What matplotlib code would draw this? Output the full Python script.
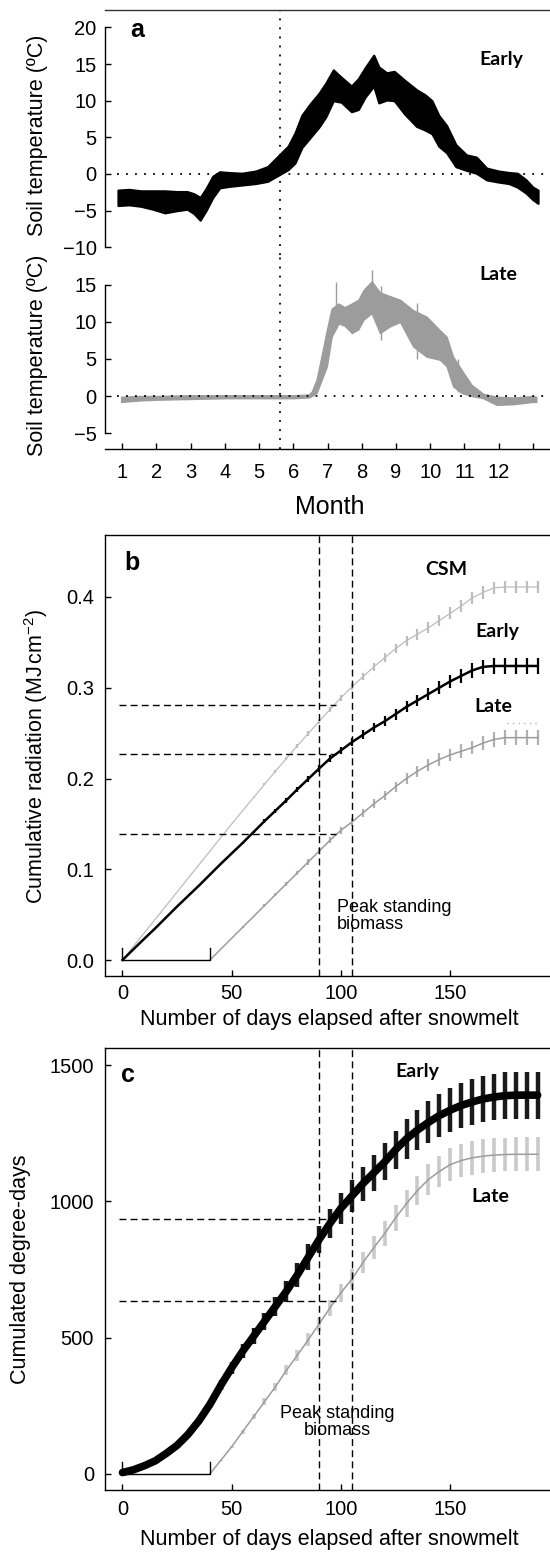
import numpy as np
import matplotlib
matplotlib.use("Agg")
import matplotlib.pyplot as plt

plt.rcParams["font.family"] = ["Liberation Sans", "DejaVu Sans"]
plt.rcParams["mathtext.fontset"] = "custom"
plt.rcParams["mathtext.rm"] = "Liberation Sans"
plt.rcParams["mathtext.it"] = "Liberation Sans:italic"

# ---- panel a: soil temperature envelopes (month, min, max) ----
EARLY_MONTH = [0.88, 1.20, 1.55, 1.90, 2.25, 2.60, 2.90, 3.10, 3.28, 3.45, 3.65, 3.85,
               4.10, 4.50, 4.90, 5.25, 5.55, 5.85, 6.05, 6.25, 6.50, 6.75, 6.95, 7.17,
               7.40, 7.70, 7.90, 8.10, 8.35, 8.50, 8.73, 8.95, 9.25, 9.60, 9.85, 10.05,
               10.25, 10.48, 10.75, 11.06, 11.35, 11.65, 12.00, 12.30, 12.55, 12.80,
               13.00, 13.15]
EARLY_LO = [-4.3, -4.2, -4.4, -4.8, -5.3, -5.0, -4.8, -5.4, -6.3, -5.0, -3.2, -1.9,
            -1.7, -1.5, -1.3, -1.0, -0.2, 0.6, 1.5, 3.6, 5.0, 6.4, 7.8, 10.0,
            9.8, 8.5, 8.8, 10.5, 12.0, 9.7, 10.1, 10.0, 8.2, 6.5, 6.0, 5.5,
            3.8, 2.9, 1.0, 0.5, 0.1, -0.8, -1.1, -1.3, -1.8, -2.6, -3.5, -4.0]
EARLY_HI = [-2.2, -2.1, -2.3, -2.3, -2.3, -2.4, -2.4, -2.7, -3.2, -2.0, -0.3, 0.3,
            0.2, 0.1, 0.4, 1.0, 2.4, 3.8, 5.6, 8.0, 9.6, 11.0, 12.4, 14.2,
            13.2, 12.0, 13.0, 14.5, 16.2, 14.6, 13.8, 14.0, 12.8, 11.5, 10.8, 10.0,
            8.0, 6.6, 4.0, 2.6, 2.3, 0.8, 0.4, 0.2, 0.1, -0.8, -1.8, -2.2]

LATE_MONTH = [0.97, 1.50, 2.00, 3.00, 4.00, 5.00, 6.00, 6.45, 6.54, 6.68, 6.83, 6.98,
              7.12, 7.32, 7.50, 7.71, 7.90, 8.05, 8.29, 8.53, 8.82, 9.12, 9.50, 9.90,
              10.28, 10.48, 10.67, 10.92, 11.21, 11.55, 11.94, 12.43, 13.00, 13.10]
LATE_LO = [-0.8, -0.6, -0.5, -0.4, -0.3, -0.3, -0.3, -0.2, 0.0, 0.4, 2.2, 4.0,
           8.0, 9.8, 9.5, 8.5, 9.0, 10.3, 11.2, 8.5, 9.4, 10.0, 6.7, 5.3,
           4.9, 4.0, 1.3, 0.4, 0.0, -0.3, -1.2, -1.1, -0.8, -0.8]
LATE_HI = [-0.1, 0.0, 0.0, 0.1, 0.1, 0.1, 0.1, 0.2, 0.6, 2.2, 5.5, 8.9,
           11.8, 12.5, 12.0, 12.5, 13.0, 14.3, 15.5, 14.0, 13.5, 13.0, 11.6, 10.7,
           8.9, 8.0, 5.3, 3.5, 1.5, 0.3, -0.1, -0.2, 0.0, -0.1]
# isolated hourly spikes in the late series
LATE_SPIKE_MONTH = [7.25, 8.29, 8.55, 9.62, 10.80]
LATE_SPIKE_LO = [9.0, 11.0, 7.5, 5.0, 0.5]
LATE_SPIKE_HI = [15.4, 17.0, 14.8, 12.6, 5.0]

SNOWMELT_MONTH = 5.60
MONTH_TICKS = list(range(1, 14))
MONTH_LABELS = [str(m) for m in range(1, 13)] + [""]

# ---- panels b and c: cumulative series every 5 days after snowmelt ----
DAYS = list(range(0, 191, 5))
DAYS_LATE = list(range(40, 191, 5))

CSM_RAD = [0, .015, .030, .045, .060, .075, .090, .105, .120, .135, .150, .1645, .179,
           .1935, .208, .222, .236, .2495, .263, .276, .289, .301, .312, .323, .333,
           .343, .352, .359, .366, .374, .382, .390, .399, .405, .410, .411, .411,
           .411, .411]
CSM_RAD_SD = [0, 0, 0, 0, 0, 0, 0, 0, 0, 0, 0, 0, .001, .001, .0015, .002, .002, .0025,
              .003, .003, .0035, .004, .004, .0045, .005, .005, .0055, .006, .006,
              .0065, .0065, .007, .007, .007, .007, .007, .007, .007, .007]
EARLY_RAD = [0, .0118, .0235, .035, .047, .059, .0705, .082, .094, .106, .1175, .129,
             .141, .153, .1645, .176, .188, .1995, .211, .222, .231, .240, .248, .256,
             .263, .271, .279, .286, .293, .300, .307, .313, .319, .323, .324, .324,
             .324, .324, .324]
EARLY_RAD_SD = [0, 0, 0, 0, 0, 0, 0, 0, 0, 0, .001, .001, .0015, .002, .002, .0025, .003,
                .003, .0035, .004, .004, .0045, .005, .005, .0055, .006, .006, .0065,
                .007, .007, .0075, .0075, .008, .008, .0085, .0085, .0085, .0085, .0085]
LATE_RAD = [0, .012, .024, .036, .048, .060, .072, .084, .096, .108, .120, .132, .143,
            .152, .162, .172, .181, .191, .200, .208, .215, .221, .226, .230, .234,
            .239, .243, .245, .245, .245, .245]
LATE_RAD_SD = [0, 0, 0, .001, .001, .0015, .002, .002, .0025, .003, .003, .0035, .004,
               .004, .0045, .005, .005, .0055, .006, .006, .0065, .007, .007, .0075,
               .0075, .008, .008, .008, .008, .008, .008]
RAD_AT_PEAK = [0.281, 0.227, 0.1385]

EARLY_GDD = [5, 15, 30, 48, 75, 105, 145, 195, 255, 325, 390, 450, 505, 560, 615, 670,
             730, 795, 860, 920, 975, 1020, 1065, 1105, 1145, 1190, 1230, 1262, 1290,
             1315, 1335, 1352, 1365, 1376, 1383, 1388, 1390, 1390, 1390]
EARLY_GDD_SD = [0, 1, 2, 3, 5, 6, 8, 11, 14, 18, 22, 25, 29, 32, 36, 39, 43, 47, 51, 54,
                57, 60, 63, 65, 68, 70, 73, 75, 77, 79, 81, 82, 84, 85, 86, 86, 86, 86, 86]
LATE_GDD = [0, 50, 100, 155, 210, 265, 320, 380, 435, 492, 550, 610, 665, 715, 775, 830,
            882, 940, 992, 1040, 1080, 1110, 1135, 1150, 1160, 1166, 1170, 1172, 1173,
            1173, 1173]
LATE_GDD_SD = [0, 2, 4, 7, 9, 12, 15, 18, 21, 24, 27, 30, 33, 36, 39, 42, 45, 48, 51, 54,
               56, 58, 60, 61, 62, 62, 62, 62, 62, 62, 62]
GDD_AT_PEAK = [935, 636]

PEAK_BIOMASS_DAYS = [90, 105]
PEAK_MID_DAY = 97.5
SNOWMELT_DELAY = 40          # days between early and late snowmelt
STRAY_X, STRAY_Y = [176, 191], 0.261

W, H = 550, 1553
BLACK, GREY, LIGHT = "black", "#9c9c9c", "#bdbdbd"
TICK_PT = 14.5
LABEL_PT = 15.5
CAL = ["Lato", "DejaVu Sans"]


def rect(l, t, r, b):
    return [l / W, 1 - b / H, (r - l) / W, (b - t) / H]


def ftext(x, y, s, **kw):
    fig.text(x / W, 1 - y / H, s, **kw)


def style(ax, xpad=5, ypad=6):
    ax.tick_params(direction="in", length=4.5, width=1, labelsize=TICK_PT)
    ax.tick_params(axis="x", pad=xpad)
    ax.tick_params(axis="y", pad=ypad)
    for s in ax.spines.values():
        s.set_linewidth(1)


fig = plt.figure(figsize=(W / 100, H / 100), dpi=100)

# ---------------- panel a ----------------
ax_t = fig.add_axes(rect(105, 10, 550, 255))
ax_l = fig.add_axes(rect(105, 255, 550, 449))
dot = (0, (1, 4))

ax_t.fill_between(EARLY_MONTH, EARLY_LO, EARLY_HI, color=BLACK, lw=1.6)
ax_l.fill_between(LATE_MONTH, LATE_LO, LATE_HI, color=GREY, lw=1.0)
ax_l.vlines(LATE_SPIKE_MONTH, LATE_SPIKE_LO, LATE_SPIKE_HI, color=GREY, lw=1)

for ax, lims, bounds, ticks in [(ax_t, (-11.05, 22.37), (-10, 20), range(-10, 21, 5)),
                                (ax_l, (-7.16, 19.05), (-5, 15), range(-5, 16, 5))]:
    ax.set_xlim(0.5, 13.5)
    ax.set_ylim(*lims)
    ax.hlines(0, 0.85, 13.5, colors=BLACK, linestyles=dot, lw=1.3)
    ax.axvline(SNOWMELT_MONTH, color=BLACK, ls=dot, lw=1.3)
    ax.set_yticks(list(ticks))
    style(ax, ypad=6)
    ax.spines["left"].set_bounds(*bounds)
    ax.spines["right"].set_visible(False)

ax_t.spines["bottom"].set_visible(False)
ax_t.spines["top"].set_color("#333333")
ax_t.set_xticks([])
ax_l.spines["top"].set_visible(False)
ax_l.set_xticks(MONTH_TICKS)
ax_l.set_xticklabels(MONTH_LABELS)
ax_l.tick_params(axis="x", pad=10)

ftext(130, 30, "a", fontsize=18, fontweight="bold", va="center")
ftext(501, 60, "Early", fontsize=14, fontweight="bold", family=CAL, ha="center", va="center")
ftext(498, 275, "Late", fontsize=14, fontweight="bold", family=CAL, ha="center", va="center")
ftext(38, 135, "Soil temperature (ºC)", fontsize=LABEL_PT, rotation=90, ha="center", va="center")
ftext(38, 355, "Soil temperature (ºC)", fontsize=LABEL_PT, rotation=90, ha="center", va="center")
ftext(330, 507, "Month", fontsize=18, ha="center", va="center")

# ---------------- panel b ----------------
ax_b = fig.add_axes(rect(105, 535, 554, 976))
dash = (0, (5, 3))
ax_b.errorbar(DAYS, CSM_RAD, yerr=CSM_RAD_SD, fmt="none", ecolor=LIGHT, elinewidth=1.6)
ax_b.plot(DAYS, CSM_RAD, color=LIGHT, lw=0.9)
ax_b.errorbar(DAYS_LATE, LATE_RAD, yerr=LATE_RAD_SD, fmt="none", ecolor="#b0b0b0", elinewidth=1.6)
ax_b.plot(DAYS_LATE, LATE_RAD, color=GREY, lw=1.1)
ax_b.errorbar(DAYS, EARLY_RAD, yerr=EARLY_RAD_SD, fmt="none", ecolor=BLACK, elinewidth=1.6)
ax_b.plot(DAYS, EARLY_RAD, color=BLACK, lw=1.8)
ax_b.plot(STRAY_X, [STRAY_Y] * 2, color="#b5b5b5", ls=(0, (1, 3)), lw=1)
ax_b.hlines(RAD_AT_PEAK, -1.5, PEAK_MID_DAY, colors=BLACK, linestyles=dash, lw=1)
for d in PEAK_BIOMASS_DAYS:
    ax_b.axvline(d, color=BLACK, ls=dash, lw=1)
ax_b.plot([0, 0, SNOWMELT_DELAY, SNOWMELT_DELAY], [0.013, 0, 0, 0.013], color=BLACK, lw=1)
ax_b.set_xlim(-8, 197.5)
ax_b.set_ylim(-0.0176, 0.4683)
ax_b.set_xticks([0, 50, 100, 150])
ax_b.set_yticks([0.0, 0.1, 0.2, 0.3, 0.4])
ax_b.set_yticklabels(["0.0", "0.1", "0.2", "0.3", "0.4"])
style(ax_b, xpad=6, ypad=8)
ax_b.spines["right"].set_visible(False)

ftext(124, 563, "b", fontsize=18, fontweight="bold", va="center")
ftext(446, 570, "CSM", fontsize=14, fontweight="bold", family=CAL, ha="center", va="center")
ftext(497, 632, "Early", fontsize=14, fontweight="bold", family=CAL, ha="center", va="center")
ftext(493, 707, "Late", fontsize=14, fontweight="bold", family=CAL, ha="center", va="center")
ftext(337, 916, "Peak standing\nbiomass", fontsize=13, ha="left", va="center", linespacing=1.0)
ftext(36, 756, r"Cumulative radiation (MJ$\,$cm$^{-2}$)", fontsize=LABEL_PT,
      rotation=90, ha="center", va="center")
ftext(329, 1020, "Number of days elapsed after snowmelt", fontsize=LABEL_PT,
      ha="center", va="center")

# ---------------- panel c ----------------
ax_c = fig.add_axes(rect(105, 1048, 554, 1490))
ax_c.errorbar(DAYS_LATE, LATE_GDD, yerr=LATE_GDD_SD, fmt="none", ecolor="#cacaca", elinewidth=2.6)
ax_c.plot(DAYS_LATE, LATE_GDD, color=GREY, lw=1.1)
ax_c.errorbar(DAYS, EARLY_GDD, yerr=EARLY_GDD_SD, fmt="none", ecolor="#1a1a1a", elinewidth=3.2)
ax_c.plot(DAYS, EARLY_GDD, color=BLACK, lw=5.5, solid_capstyle="round")
ax_c.hlines(GDD_AT_PEAK, -1.5, PEAK_MID_DAY, colors=BLACK, linestyles=dash, lw=1)
for d in PEAK_BIOMASS_DAYS:
    ax_c.axvline(d, color=BLACK, ls=dash, lw=1)
ax_c.plot([0, 0, SNOWMELT_DELAY, SNOWMELT_DELAY], [42, 0, 0, 42], color=BLACK, lw=1)
ax_c.set_xlim(-8, 197.5)
ax_c.set_ylim(-59, 1563)
ax_c.set_xticks([0, 50, 100, 150])
ax_c.set_yticks([0, 500, 1000, 1500])
style(ax_c, xpad=7, ypad=8)
ax_c.spines["right"].set_visible(False)

ftext(121, 1075, "c", fontsize=18, fontweight="bold", va="center")
ftext(417, 1072, "Early", fontsize=14, fontweight="bold", family=CAL, ha="center", va="center")
ftext(490, 1197, "Late", fontsize=14, fontweight="bold", family=CAL, ha="center", va="center")
ftext(337, 1422, "Peak standing\nbiomass", fontsize=13, ha="center", va="center",
      multialignment="center", linespacing=1.0)
ftext(21, 1269, "Cumulated degree-days", fontsize=LABEL_PT, rotation=90,
      ha="center", va="center")
ftext(329, 1540, "Number of days elapsed after snowmelt", fontsize=LABEL_PT,
      ha="center", va="center")

fig.savefig("out.png", dpi=100)
